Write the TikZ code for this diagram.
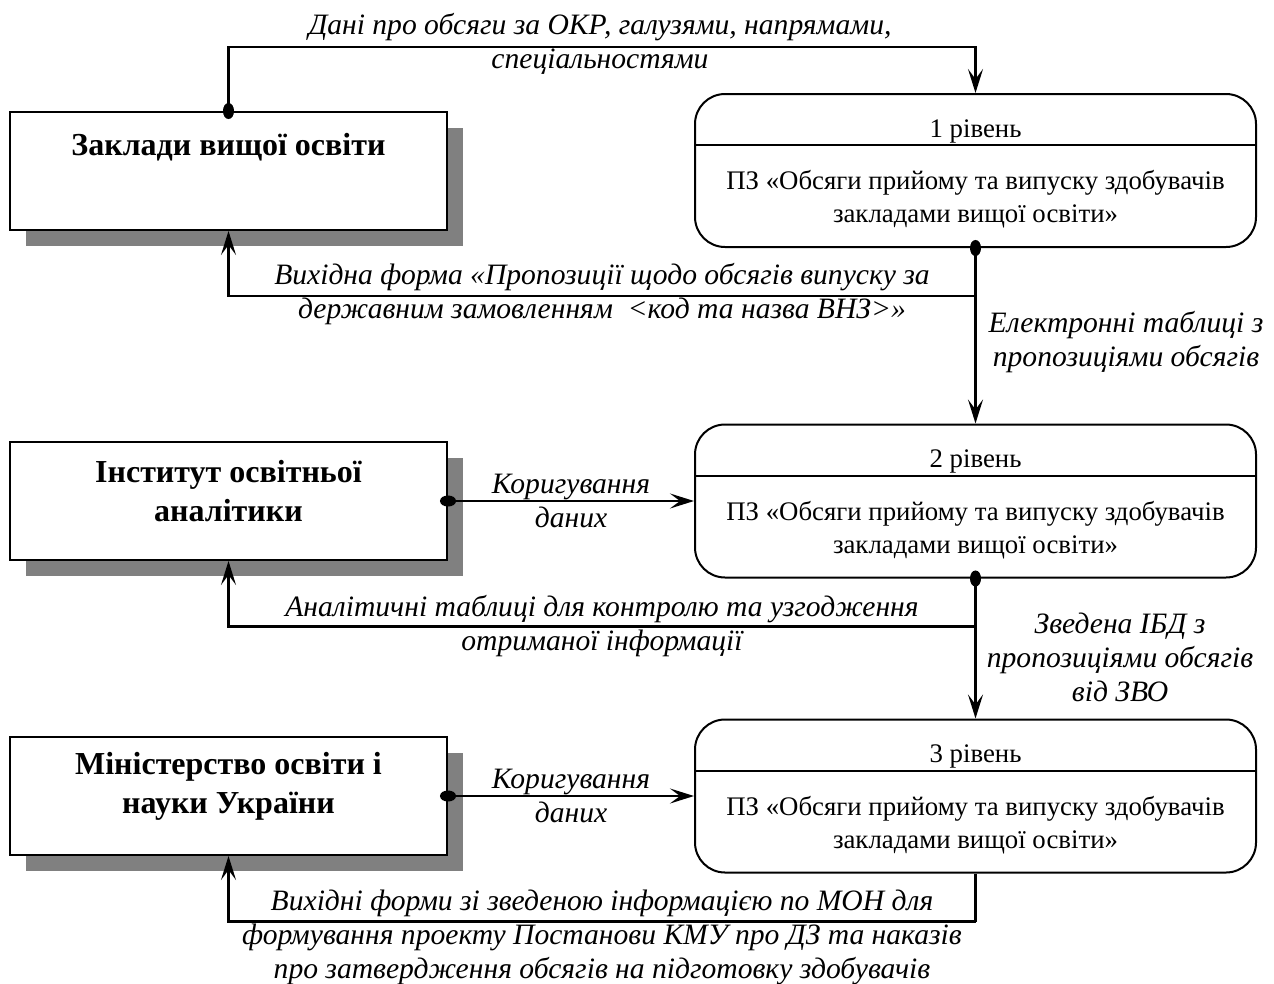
\documentclass[tikz,border=0pt]{standalone}
\usepackage{fontspec}
\setmainfont{Liberation Serif}
\usetikzlibrary{arrows.meta,calc,shadows}

\tikzset{
  entity/.style={draw,line width=2pt,fill=white,minimum width=437pt,minimum height=118pt,inner sep=0pt,
    drop shadow={shadow xshift=16pt,shadow yshift=-16pt,fill=black!50,opacity=1}},
  entitytext/.style={font=\fontsize{32}{39}\selectfont\bfseries,align=center,inner sep=0pt},
  stage/.style={draw,line width=2pt,rounded corners=30pt,minimum width=561pt,minimum height=153pt,inner sep=0pt},
  stagetext/.style={font=\fontsize{26.8}{33}\selectfont,align=center,inner sep=0pt},
  note/.style={font=\fontsize{29.6}{34}\selectfont\itshape,align=center,inner sep=0pt},
  flow/.style={line width=2.5pt,-{Stealth[length=24pt,width=15pt,inset=10pt]}},
  dotflow/.style={line width=2.5pt,{Ellipse[length=16pt,width=11pt]}-{Stealth[length=24pt,width=15pt,inset=10pt]},shorten <=-8pt}
}

\begin{document}
\begin{tikzpicture}[x=1pt,y=-1pt]
  \useasboundingbox (0,0) rectangle (1274,983);
  % джерела даних
  \node[entity] (zvo) at (228.5,171) {};
  \node[entitytext] (zvot) at (228.5,147) {Заклади вищої освіти};
  \node[entity] (ioa) at (228.5,501) {};
  \node[entitytext] (ioat) at (228.5,491) {Інститут освітньої\\аналітики};
  \node[entity] (mon) at (228.5,796) {};
  \node[entitytext] (mont) at (228.5,786) {Міністерство освіти і\\науки України};
  % рівні ПЗ
  \foreach \n/\y/\lvl in {st1/170.5/1,st2/501/2,st3/796/3}{
    \node[stage] (\n) at (975.5,\y) {};
    \draw[line width=2pt] ($(\n.north west)+(0,52)$) -- ($(\n.north east)+(0,52)$);
    \node[stagetext,anchor=base] (\n h) at ($(\n.north)+(0,44)$) {\lvl\ рівень};
    \node[stagetext] (\n b) at ($(\n.center)+(0,29)$) {ПЗ «Обсяги прийому та випуску здобувачів\\закладами вищої освіти»};
  }
  % потоки
  \draw[dotflow] (zvo.north) -- ++(0,-64) -| (st1.north);
  \draw[dotflow] (st1.south) -- (st2.north);
  \draw[dotflow] (st2.south) -- (st3.north);
  \draw[dotflow] (ioa.east) -- (st2.west);
  \draw[dotflow] (mon.east) -- (st3.west);
  \coordinate (j1) at ($(st1.south)+(0,48)$);
  \coordinate (j2) at ($(st2.south)+(0,48)$);
  \coordinate (j3) at ($(st3.south)+(0,48)$);
  \draw[flow] (j1) -| (zvo.south);
  \draw[flow] (j2) -| (ioa.south);
  \draw[line width=2.5pt] (st3.south) -- (j3);
  \draw[flow] (j3) -| (mon.south);
  % підписи
  \node[note] (ltop) at (600,43.5) {Дані про обсяги за ОКР, галузями, напрямами,\\спеціальностями};
  \node[note] (lfb1) at (602,294.5) {Вихідна форма «Пропозиції щодо обсягів випуску за\\державним замовленням\ \ <код та назва ВНЗ>»};
  \node[note] (lel) at (1126,342) {Електронні таблиці з\\пропозиціями обсягів};
  \node[note] (lkor1) at (571,501) {Коригування\\даних};
  \node[note] (lfb2) at (602,626) {Аналітичні таблиці для контролю та узгодження\\отриманої інформації};
  \node[note] (lzv) at (1120,657) {Зведена ІБД з\\пропозиціями обсягів\\від ЗВО};
  \node[note] (lkor2) at (571,796) {Коригування\\даних};
  \node[note] (lfb3) at (602,937) {Вихідні форми зі зведеною інформацією по МОН для\\формування проекту Постанови КМУ про ДЗ та наказів\\про затвердження обсягів на підготовку здобувачів};
\end{tikzpicture}
\end{document}
